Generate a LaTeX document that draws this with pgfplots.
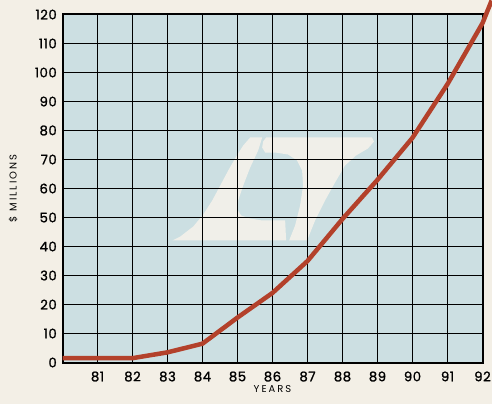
\documentclass[border=0pt]{standalone}
\usepackage{fontspec}
\setmainfont{Poppins}
\newfontfamily\tickfont{Poppins}[FakeBold=1.2, LetterSpace=4]
\newfontfamily\labfont{Poppins}[LetterSpace=20]
\usepackage{pgfplots}
\pgfplotsset{compat=1.18}
\definecolor{paper}{HTML}{F3EFE6}
\definecolor{bgblue}{HTML}{CCDFE2}
\definecolor{logo}{HTML}{F0EFE9}
\definecolor{curve}{HTML}{B3412B}
\pgfplotsset{
  common/.style={
    at={(62.5bp,41.5bp)}, anchor=south west,
    width=420bp, height=348bp, scale only axis,
    xmin=80, xmax=92, ymin=0, ymax=120,
  }
}
\begin{document}
\begin{tikzpicture}[x=1bp,y=1bp]
\fill[paper] (0,0) rectangle (492,404);
% layer 1: background and watermark logo
\begin{axis}[
  common,
  xtick=\empty, ytick=\empty,
  axis line style={draw=none},
  axis background/.style={fill=bgblue},
]
\addplot[fill=logo, draw=none] coordinates {
(85.362,77.59) (85.704,77.59) (85.590,73.10) (85.362,67.24) (85.163,61.03)
(85.020,55.86) (84.991,52.76) (85.106,50.69) (85.362,49.66) (85.704,48.97)
(86.361,48.97) (86.389,42.07) (83.137,42.07) (83.366,43.45) (83.736,46.90)
(84.022,51.03) (84.278,55.86) (84.507,61.03) (84.735,66.21) (84.963,71.03)
(85.163,74.83)
};
\addplot[fill=logo, draw=none] coordinates {
(85.819,77.59) (88.842,77.59) (88.899,76.21) (88.728,73.79) (88.386,71.38)
(88.072,67.93) (87.787,62.07) (87.501,55.86) (87.216,48.97) (86.988,42.07)
(86.475,42.07) (86.646,47.24) (86.788,54.14) (86.874,61.03) (86.845,66.21)
(86.703,69.66) (86.446,71.72) (86.075,72.41) (85.790,72.41) (85.704,74.14)
(85.733,76.21)
};
\end{axis}
% layer 2: grid, ticks, labels and the curve
\begin{axis}[
  common,
  xtick={81,...,92}, ytick={0,10,...,120},
  grid=major, grid style={black, line width=1.8bp},
  axis line style={black, line width=2bp},
  major tick length=0pt,
  tick label style={font=\tickfont\fontsize{13.3}{13.3}\selectfont},
  /pgf/number format/assume math mode=true,
  xticklabel style={yshift=-5.5bp},
  yticklabel style={xshift=-2.2bp},
  xlabel={YEARS}, ylabel={\$ MILLIONS},
  every axis x label/.style={at={(axis description cs:0.5,-0.0776)}, anchor=center},
  every axis y label/.style={at={(axis description cs:-0.1177,0.5)}, rotate=90, anchor=center},
  label style={font=\labfont\fontsize{10}{10}\selectfont},
  clip=false,
]
\addplot[curve, line width=4.5bp, line join=round] coordinates {
(80,1.5) (81,1.5) (82,1.5) (83,3.5) (84,6.5) (85,15.5) (86,24) (87,35)
(88,49.5) (89,63) (90,77.5) (91,96) (92,117) (92.26,124.8)
};
\end{axis}
\pgfresetboundingbox
\path[use as bounding box] (0,0) rectangle (492,404);
\end{tikzpicture}
\end{document}
